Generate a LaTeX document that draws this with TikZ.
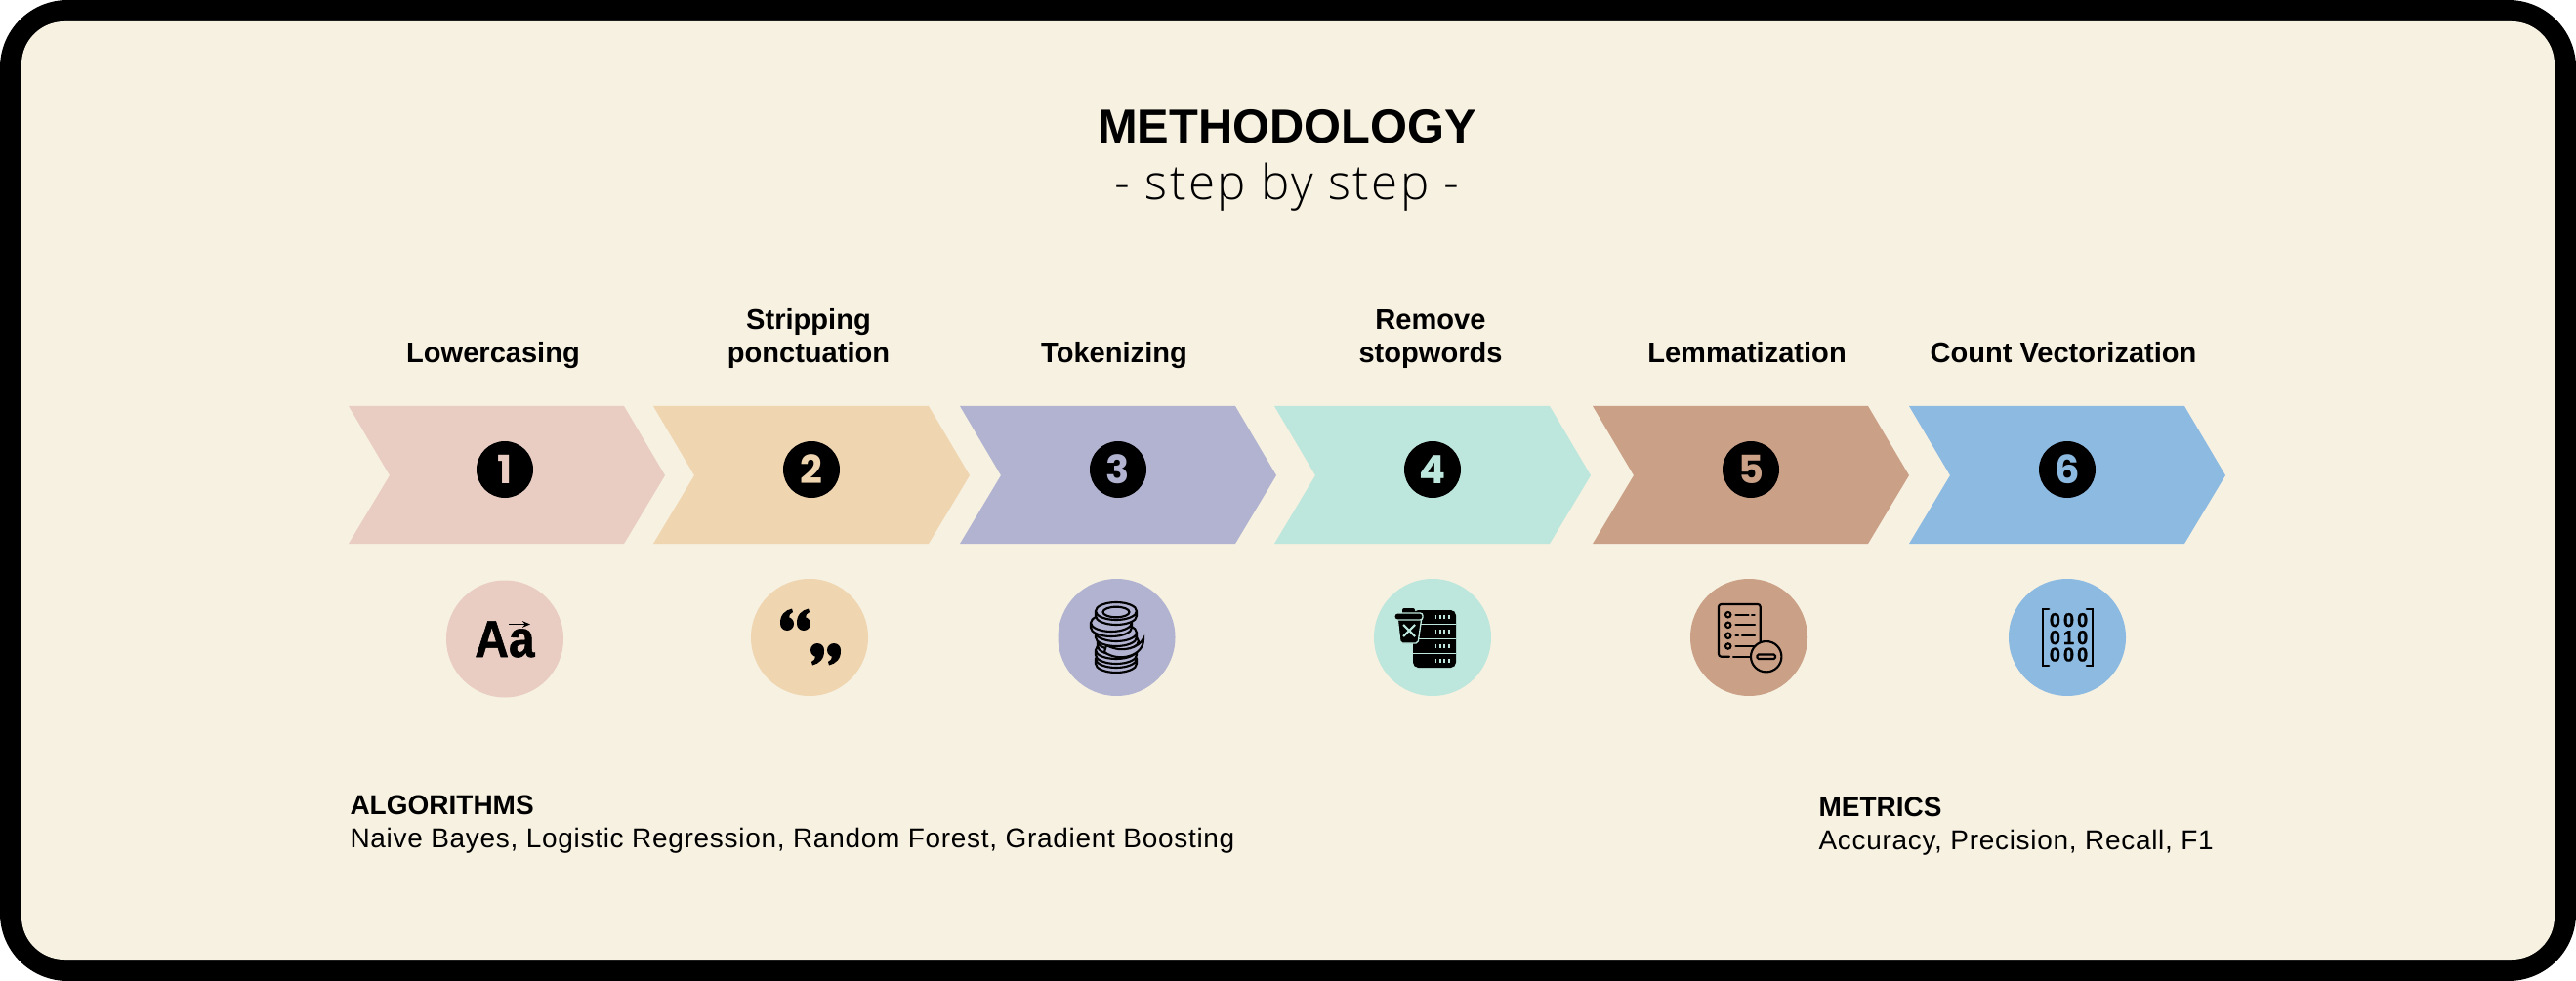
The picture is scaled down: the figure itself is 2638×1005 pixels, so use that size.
\documentclass[tikz,border=0pt]{standalone}
\usepackage{fontspec}
\setmainfont{Liberation Sans}
\newfontfamily\lightfont{Open Sans Light}[LetterSpace=5]
\newfontfamily\bodyfont{Liberation Sans}[LetterSpace=2.5]
\newfontfamily\numfont{Poppins Bold}
\newfontfamily\matrixfont{Liberation Sans Bold}[LetterSpace=15,FakeBold=1]
\newfontfamily\lettersfont{Liberation Sans Bold}[FakeStretch=0.9,FakeBold=1]
\usetikzlibrary{arrows.meta}

\definecolor{paper}{RGB}{247,241,225}
\definecolor{stepA}{RGB}{233,205,194}
\definecolor{stepB}{RGB}{239,213,176}
\definecolor{stepC}{RGB}{177,179,208}
\definecolor{stepD}{RGB}{189,231,221}
\definecolor{stepE}{RGB}{202,161,135}
\definecolor{stepF}{RGB}{140,186,225}

\tikzset{every picture/.style={line width=0.75pt},
	titlefont/.style={font=\bfseries\fontsize{36.6}{37}\selectfont,anchor=base},
	subtitlefont/.style={font=\lightfont\fontsize{37}{37}\selectfont,anchor=base},
	steplabel/.style={font=\bfseries\fontsize{21.8}{25.5}\selectfont,anchor=base,align=center,inner sep=0},
	headlabel/.style={font=\bfseries\fontsize{21}{21}\selectfont,anchor=base west,inner sep=0},
	bodylabel/.style={font=\bodyfont\fontsize{21}{21}\selectfont,anchor=base west,inner sep=0},
	numdisc/.style={circle,fill=black,inner sep=0,minimum size=43.5pt,font=\numfont\fontsize{30}{30}\selectfont},
	icondisc/.style={circle,inner sep=0,minimum size=90pt},
	iconline/.style={line width=1.6pt,line cap=round},
	matrixrow/.style={font=\matrixfont\fontsize{15}{15}\selectfont,anchor=base,inner sep=0},
	coin/.pic={\draw [iconline,fill=stepC] (-21,0) -- (-21,-5) arc [start angle=180,end angle=360,x radius=21,y radius=9] -- (21,0) arc [start angle=0,end angle=180,x radius=21,y radius=9] -- cycle (-21,0) arc [start angle=180,end angle=360,x radius=21,y radius=9];},
	quotemark/.pic={\fill (0,0) circle [radius=7];
		\fill (-7,0) .. controls (-7.5,9) and (-2,14) .. (5,15.5) -- (6,12) .. controls (3,10.5) and (2,9) .. (2,6) -- cycle;}
}

\begin{document}
\begin{tikzpicture}[x=0.75pt,y=0.75pt,yscale=-1,xscale=1]
		\useasboundingbox (0,0) rectangle (2638,1005);

		%frame
		\fill [black,rounded corners=52pt] (0,0) rectangle (2638,1005);
		\fill [paper,rounded corners=33pt] (22,22) rectangle (2616,983);

		%title
		\node (title) [titlefont] at (1318,147) {METHODOLOGY};
		\node (subtitle) [subtitlefont] at (1318,205) {- step by step -};

		%chevrons
		\fill [stepA] (357,416) -- (639,416) -- (681,487) -- (639,557) -- (357,557) -- (399,487) -- cycle;
		\fill [stepB] (669,416) -- (951,416) -- (993,487) -- (951,557) -- (669,557) -- (711,487) -- cycle;
		\fill [stepC] (983,416) -- (1265,416) -- (1307,487) -- (1265,557) -- (983,557) -- (1025,487) -- cycle;
		\fill [stepD] (1305,416) -- (1587,416) -- (1629,487) -- (1587,557) -- (1305,557) -- (1347,487) -- cycle;
		\fill [stepE] (1631,416) -- (1913,416) -- (1955,487) -- (1913,557) -- (1631,557) -- (1673,487) -- cycle;
		\fill [stepF] (1955,416) -- (2237,416) -- (2279,487) -- (2237,557) -- (1955,557) -- (1997,487) -- cycle;

		%step labels
		\node (lowercasing) [steplabel] at (505,372) {Lowercasing};
		\node (stripping) [steplabel] at (828,372) {Stripping\\ponctuation};
		\node (tokenizing) [steplabel] at (1141,372) {Tokenizing};
		\node (stopwords) [steplabel] at (1465,372) {Remove\\stopwords};
		\node (lemmatization) [steplabel] at (1789,372) {Lemmatization};
		\node (vectorization) [steplabel] at (2113,372) {Count Vectorization};

		%numbers
		\node (numA) [numdisc,text=stepA] at (517,481) {1};
		\node (numB) [numdisc,text=stepB] at (831,481) {2};
		\node (numC) [numdisc,text=stepC] at (1145,481) {3};
		\node (numD) [numdisc,text=stepD] at (1467,481) {4};
		\node (numE) [numdisc,text=stepE] at (1793,481) {5};
		\node (numF) [numdisc,text=stepF] at (2117,481) {6};

		%icon discs
		\node (iconA) [icondisc,fill=stepA] at (517,654.5) {};
		\node (iconB) [icondisc,fill=stepB] at (829,653) {};
		\node (iconC) [icondisc,fill=stepC] at (1143.5,653) {};
		\node (iconD) [icondisc,fill=stepD] at (1467,653) {};
		\node (iconE) [icondisc,fill=stepE] at (1791,653) {};
		\node (iconF) [icondisc,fill=stepF] at (2117,653) {};

		%lowercase icon
		\node (letters) [anchor=base,inner sep=0,font=\lettersfont\fontsize{40}{40}\selectfont] at (517,673) {Aa};
		\draw [line width=1.3pt,-{Stealth[length=6pt,width=5pt]}] (521,639.5) -- (543,639.5);

		%quotes icon
		\pic at (806,639) {quotemark};
		\pic at (823,639) {quotemark};
		\pic [rotate=180] at (837,666) {quotemark};
		\pic [rotate=180] at (854,666) {quotemark};

		%coins icon
		\pic at (1143,675) {coin};
		\pic at (1143,666) {coin};
		\pic at (1145,657) {coin};
		\draw [iconline,fill=stepC] (1131,668) .. controls (1146,679) and (1172,672) .. (1171,654) .. controls (1167,663) and (1150,670) .. (1133,661) -- cycle;
		\pic at (1143,648) {coin};
		\pic at (1138,638) {coin};
		\pic at (1143,626) {coin};
		\draw [iconline] (1143,627) circle [x radius=13.5,y radius=5.3];

		%stopwords icon
		\fill [black,rounded corners=4pt] (1447,625) rectangle (1491,684);
		\draw [stepD,line width=1pt] (1447,639.5) -- (1491,639.5) (1447,654.5) -- (1491,654.5) (1447,669.5) -- (1491,669.5);
		\draw [stepD,line width=3pt,dash pattern=on 1.4pt off 1.9pt] (1469.5,632) -- (1486,632);
		\draw [stepD,line width=3pt,dash pattern=on 1.4pt off 1.9pt] (1469.5,647) -- (1486,647);
		\draw [stepD,line width=3pt,dash pattern=on 1.4pt off 1.9pt] (1469.5,662) -- (1486,662);
		\draw [stepD,line width=3pt,dash pattern=on 1.4pt off 1.9pt] (1469.5,677) -- (1486,677);
		\fill [black,rounded corners=1.5pt] (1436,623) rectangle (1449,630);
		\draw [stepD,line width=1pt,fill=black,rounded corners=1.5pt] (1431,632) -- (1434,659) -- (1452,659) -- (1456,632) -- cycle;
		\draw [stepD,line width=1pt,fill=black,rounded corners=2pt] (1428,628) rectangle (1457,635);
		\draw [stepD,line width=1.6pt] (1437,640) -- (1449,652) (1449,640) -- (1437,652);

		%lemmatization icon
		\draw [iconline,rounded corners=2pt] (1771,672.7) -- (1760,672.7) -- (1760,619) -- (1802.7,619) -- (1802.7,660);
		\draw [iconline] (1775,672.7) -- (1796,672.7);
		\draw [iconline] (1769.7,629.7) circle [radius=2.7] (1769.7,640.3) circle [radius=2.7] (1769.7,651.3) circle [radius=2.7] (1769.7,662) circle [radius=2.7];
		\draw [iconline] (1777.5,629.7) -- (1790.5,629.7) (1794,629.7) -- (1796.7,629.7);
		\draw [iconline] (1777.5,640.3) -- (1797,640.3);
		\draw [iconline] (1777.5,651.3) -- (1780,651.3) (1784,651.3) -- (1797,651.3);
		\draw [iconline] (1777.5,662) -- (1797,662);
		\draw [iconline,fill=stepE] (1808.7,672.7) circle [radius=15.7];
		\draw [iconline,rounded corners=1pt] (1799.5,670.5) rectangle (1818,675);

		%vectorization icon
		\draw [iconline,line width=2pt] (2098,624) -- (2092,624) -- (2092,682) -- (2098,682);
		\draw [iconline,line width=2pt] (2137,624) -- (2143,624) -- (2143,682) -- (2137,682);
		\node (rowA) [matrixrow] at (2118.5,642) {000};
		\node (rowB) [matrixrow] at (2118.5,660) {010};
		\node (rowC) [matrixrow] at (2118.5,677.5) {000};

		%bottom texts
		\node (algorithms) [headlabel] at (358,834) {ALGORITHMS};
		\node (algorithmlist) [bodylabel] at (358,868) {Naive Bayes, Logistic Regression, Random Forest, Gradient Boosting};
		\node (metrics) [headlabel] at (1862,836) {METRICS};
		\node (metriclist) [bodylabel] at (1862,870) {Accuracy, Precision, Recall, F1};

		\end{tikzpicture}
\end{document}
